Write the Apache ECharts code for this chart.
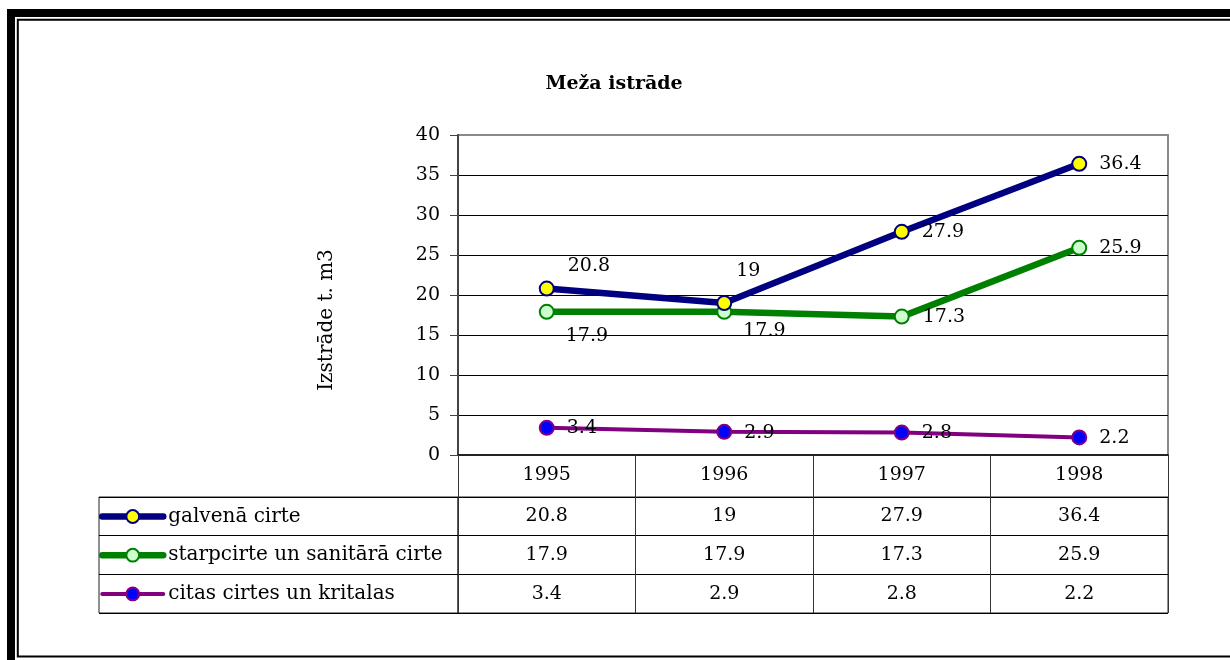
<!DOCTYPE html>
<html><head><meta charset="utf-8">
<script src="https://cdn.jsdelivr.net/npm/echarts@6/dist/echarts.min.js"></script>
<style>html,body{margin:0;padding:0;background:#fff}#c{width:1230px;height:660px}</style>
</head><body><div id="c"></div>
<script>
// ---- data ----
const years = ['1995', '1996', '1997', '1998'];
const seriesNames = ['galvenā cirte', 'starpcirte un sanitārā cirte', 'citas cirtes un kritalas'];
const galvena = [20.8, 19, 27.9, 36.4];
const starpcirte = [17.9, 17.9, 17.3, 25.9];
const citas = [3.4, 2.9, 2.8, 2.2];
const chartTitle = 'Meža istrāde';
const yAxisTitle = 'Izstrāde t. m3';

// ---- layout / style (kept separate from data) ----
const FONT = 'DejaVu Serif';
const FS = 19;
const labelOffsets = [
  [[1, -23], [-8, -32], [0, 0], [0, 0]],
  [[-1, 24], [-1, 19], [1, 0], [0, 0]],
  [[0, 0], [0, 1], [0, 0], [0, 1]]
];
const lineColors = ['#000080', '#008000', '#800080'];
const fillColors = ['#FFFF00', '#CCFFCC', '#0000FF'];
const lineWidths = [6.5, 6.5, 4];
const values = [galvena, starpcirte, citas];

const chart = echarts.init(document.getElementById('c'), null, {renderer: 'canvas'});

const lineSeries = values.map((arr, si) => ({
  type: 'line',
  name: seriesNames[si],
  xAxisIndex: 0, yAxisIndex: 0,
  data: arr.map((v, i) => ({value: v, label: {offset: labelOffsets[si][i]}})),
  symbol: 'circle',
  symbolSize: 14,
  z: 3 + (2 - si),
  lineStyle: {color: lineColors[si], width: lineWidths[si]},
  itemStyle: {color: fillColors[si], borderColor: lineColors[si], borderWidth: 2},
  label: {show: true, position: 'right', distance: 12, color: '#000', fontSize: FS, fontFamily: FONT},
  emphasis: {disabled: true}
}));

const tableData = [];
values.forEach((arr, r) => arr.forEach((v, c) => tableData.push([c, r, v])));

const option = {
  animation: false,
  backgroundColor: '#fff',
  title: {
    text: chartTitle, left: 614, top: 75, textAlign: 'center', padding: 0,
    textStyle: {fontFamily: FONT, fontSize: 19, fontWeight: 'bold', color: '#000'}
  },
  legend: {
    orient: 'vertical', left: 99, top: 506.5, padding: 0,
    itemWidth: 61, itemHeight: 16, itemGap: 18.7,
    selectedMode: false,
    textStyle: {fontFamily: FONT, fontSize: 20, color: '#000', lineHeight: 20},
    data: seriesNames.map((n, i) => ({
      name: n,
      itemStyle: {color: fillColors[i], borderColor: lineColors[i], borderWidth: 2},
      lineStyle: {color: lineColors[i], width: lineWidths[i], cap: 'round'}
    }))
  },
  grid: [
    {left: 458, top: 135, width: 710, height: 320, show: true, borderColor: '#8a8a8a', borderWidth: 2, containLabel: false},
    {left: 458, top: 497, width: 710, height: 116, show: true, borderColor: '#222', borderWidth: 1, containLabel: false},
    {left: 99, top: 497, width: 359, height: 116, show: true, borderColor: '#222', borderWidth: 1, containLabel: false}
  ],
  xAxis: [
    {
      type: 'category', gridIndex: 0, data: years, boundaryGap: true,
      axisLine: {show: true, lineStyle: {color: '#222', width: 2}},
      axisTick: {show: true, length: 42, lineStyle: {color: '#333', width: 1}},
      axisLabel: {fontFamily: FONT, fontSize: FS, color: '#000', margin: 11},
      splitLine: {show: false}
    },
    {
      type: 'category', gridIndex: 1, data: years, boundaryGap: true,
      axisLine: {show: false}, axisTick: {show: false}, axisLabel: {show: false},
      splitLine: {show: true, lineStyle: {color: '#333', width: 1}}
    },
    {
      type: 'category', gridIndex: 2, data: ['x'], show: false
    }
  ],
  yAxis: [
    {
      type: 'value', gridIndex: 0, min: 0, max: 40, interval: 5,
      axisLine: {show: true, lineStyle: {color: '#444', width: 2}},
      axisTick: {show: true, length: 8, lineStyle: {color: '#444', width: 1}},
      axisLabel: {fontFamily: FONT, fontSize: FS, color: '#000', margin: 18},
      splitLine: {show: true, showMaxLine: false, showMinLine: false, lineStyle: {color: '#000', width: 1}}
    },
    {
      type: 'category', gridIndex: 1, data: seriesNames, inverse: true, boundaryGap: true,
      axisLine: {show: false}, axisTick: {show: false}, axisLabel: {show: false},
      splitLine: {show: true, lineStyle: {color: '#000', width: 1}}
    },
    {
      type: 'category', gridIndex: 2, data: seriesNames, inverse: true, boundaryGap: true,
      axisLine: {show: false}, axisTick: {show: false}, axisLabel: {show: false},
      splitLine: {show: true, lineStyle: {color: '#000', width: 1}}
    }
  ],
  series: lineSeries.concat([{
    type: 'custom',
    xAxisIndex: 1, yAxisIndex: 1,
    data: tableData,
    silent: true,
    renderItem: function (params, api) {
      const p = api.coord([api.value(0), api.value(1)]);
      return {
        type: 'text', x: p[0], y: p[1],
        style: {text: String(api.value(2)), fill: '#000', fontSize: FS, fontFamily: FONT, align: 'center', verticalAlign: 'middle'}
      };
    }
  }]),
  graphic: [
    {type: 'rect', silent: true, z: 100, shape: {x: 11, y: 13, width: 1240, height: 680}, style: {fill: 'none', stroke: '#000', lineWidth: 8}},
    {type: 'rect', silent: true, z: 100, shape: {x: 17.8, y: 19.8, width: 1240, height: 636.7}, style: {fill: 'none', stroke: '#000', lineWidth: 2}},
    {type: 'text', silent: true, x: 327, y: 320, rotation: Math.PI / 2,
      style: {text: yAxisTitle, fill: '#000', fontSize: 20, fontFamily: FONT, align: 'center', verticalAlign: 'middle'}}
  ]
};
chart.setOption(option);
</script>
</body></html>
